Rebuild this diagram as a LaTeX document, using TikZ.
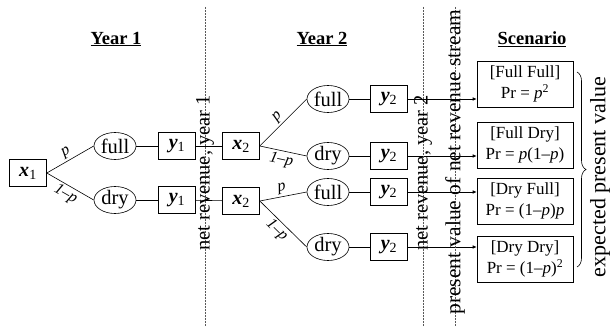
\documentclass[tikz,border=0pt]{standalone}
\usepackage{fontspec}
\setmainfont{Liberation Serif}
\usetikzlibrary{shapes.geometric,decorations.pathreplacing,arrows.meta}
\tikzset{
	box/.style={draw, line width=0.6pt, minimum width=37pt, minimum height=27pt, inner sep=0pt, font=\fontsize{20}{22}\selectfont},
	wet/.style={draw, ellipse, line width=0.6pt, minimum width=42pt, minimum height=27pt, inner sep=0pt, font=\fontsize{20.5}{22}\selectfont},
	scen/.style={draw, line width=0.6pt, minimum width=96pt, minimum height=46pt, inner sep=0pt, align=center, font=\fontsize{17}{21}\selectfont},
	head/.style={font=\fontsize{18.5}{20}\selectfont\bfseries},
	prob/.style={font=\fontsize{16}{18}\selectfont\itshape, sloped, inner sep=2pt},
	divide/.style={densely dotted, black!65, line width=0.5pt},
	vlabel/.style={rotate=90, font=\fontsize{20.5}{22}\selectfont, inner sep=0pt},
	link/.style={line width=0.6pt},
	arr/.style={-{Latex[length=4pt,width=3.5pt]}, line width=0.6pt},
}
\newcommand{\bx}[1]{\textbf{\textit{#1}}}

\begin{document}
\begin{tikzpicture}[x=1pt, y=-1pt]
		\useasboundingbox (0,0) rectangle (610,326);
		
		%%%%% headers %%%%%
		\node[head] (h1) at (116,39) {\underline{Year 1}};
		\node[head] (h2) at (322,39) {\underline{Year 2}};
		\node[head] (h3) at (532,39) {\underline{Scenario}};
		
		%%%%% year 1 %%%%%
		\node[box] (x1) at (28,173) {\bx{x}\textsubscript{1}};
		\node[wet] (f1) at (115,146) {full};
		\node[wet] (d1) at (115,200) {dry};
		\node[box] (y1a) at (177,146) {\bx{y}\textsubscript{1}};
		\node[box] (y1b) at (177,200) {\bx{y}\textsubscript{1}};
		
		\draw[link] (x1.east) -- node[prob, above] {p} (f1.west);
		\draw[link] (x1.east) -- node[prob, below] {1--p} (d1.west);
		\draw[link] (f1) -- (y1a);
		\draw[link] (d1) -- (y1b);
		
		%%%%% year 2 %%%%%
		\node[box] (x2a) at (241,146) {\bx{x}\textsubscript{2}};
		\node[box] (x2b) at (241,201) {\bx{x}\textsubscript{2}};
		\draw[link] (y1a) -- (x2a);
		\draw[link] (y1b) -- (x2b);
		
		\node[wet] (f2a) at (328,99) {full};
		\node[wet] (d2a) at (328,156) {dry};
		\node[wet] (f2b) at (328,192) {full};
		\node[wet] (d2b) at (328,247) {dry};
		
		\draw[link] (x2a.east) -- node[prob, above] {p} (f2a.west);
		\draw[link] (x2a.east) -- node[prob, below] {1--p} (d2a.west);
		\draw[link] (x2b.east) -- node[prob, above] {p} (f2b.west);
		\draw[link] (x2b.east) -- node[prob, below] {1--p} (d2b.west);
		
		\node[box] (y2a) at (389,99) {\bx{y}\textsubscript{2}};
		\node[box] (y2b) at (389,156) {\bx{y}\textsubscript{2}};
		\node[box] (y2c) at (389,192) {\bx{y}\textsubscript{2}};
		\node[box] (y2d) at (389,247) {\bx{y}\textsubscript{2}};
		\draw[link] (f2a) -- (y2a);
		\draw[link] (d2a) -- (y2b);
		\draw[link] (f2b) -- (y2c);
		\draw[link] (d2b) -- (y2d);
		
		%%%%% scenarios %%%%%
		\node[scen] (sc1) at (525,84) {[Full Full]\\Pr = \textit{p}\textsuperscript{2}};
		\node[scen] (sc2) at (525,145) {[Full Dry]\\Pr = \textit{p}(1--\textit{p})};
		\node[scen] (sc3) at (525,201) {[Dry Full]\\Pr = (1--\textit{p})\textit{p}};
		\node[scen] (sc4) at (525,259) {[Dry Dry]\\Pr = (1--\textit{p})\textsuperscript{2}};
		
		\draw[arr] (y2a.east) -- (y2a.east -| sc1.west);
		\draw[arr] (y2b.east) -- (y2b.east -| sc2.west);
		\draw[arr] (y2c.east) -- (y2c.east -| sc3.west);
		\draw[arr] (y2d.east) -- (y2d.east -| sc4.west);
		
		%%%%% dividers %%%%%
		\draw[divide] (205,7) -- (205,326);
		\draw[divide] (423,7) -- (423,326);
		\draw[divide] (455,7) -- (455,326);
		\node[vlabel] (nr1) at (205,173) {net revenue, year 1};
		\node[vlabel] (nr2) at (423,173) {net revenue, year 2};
		\node[vlabel, font=\fontsize{21.5}{22}\selectfont] (pv) at (455,162) {present value of net revenue stream};
		
		%%%%% brace %%%%%
		\draw[line width=0.6pt, decorate, decoration={brace, amplitude=9pt}] (577,72) -- (577,267);
		\node[vlabel, font=\fontsize{22}{24}\selectfont] (epv) at (600,177) {expected present value};
	\end{tikzpicture}
\end{document}
